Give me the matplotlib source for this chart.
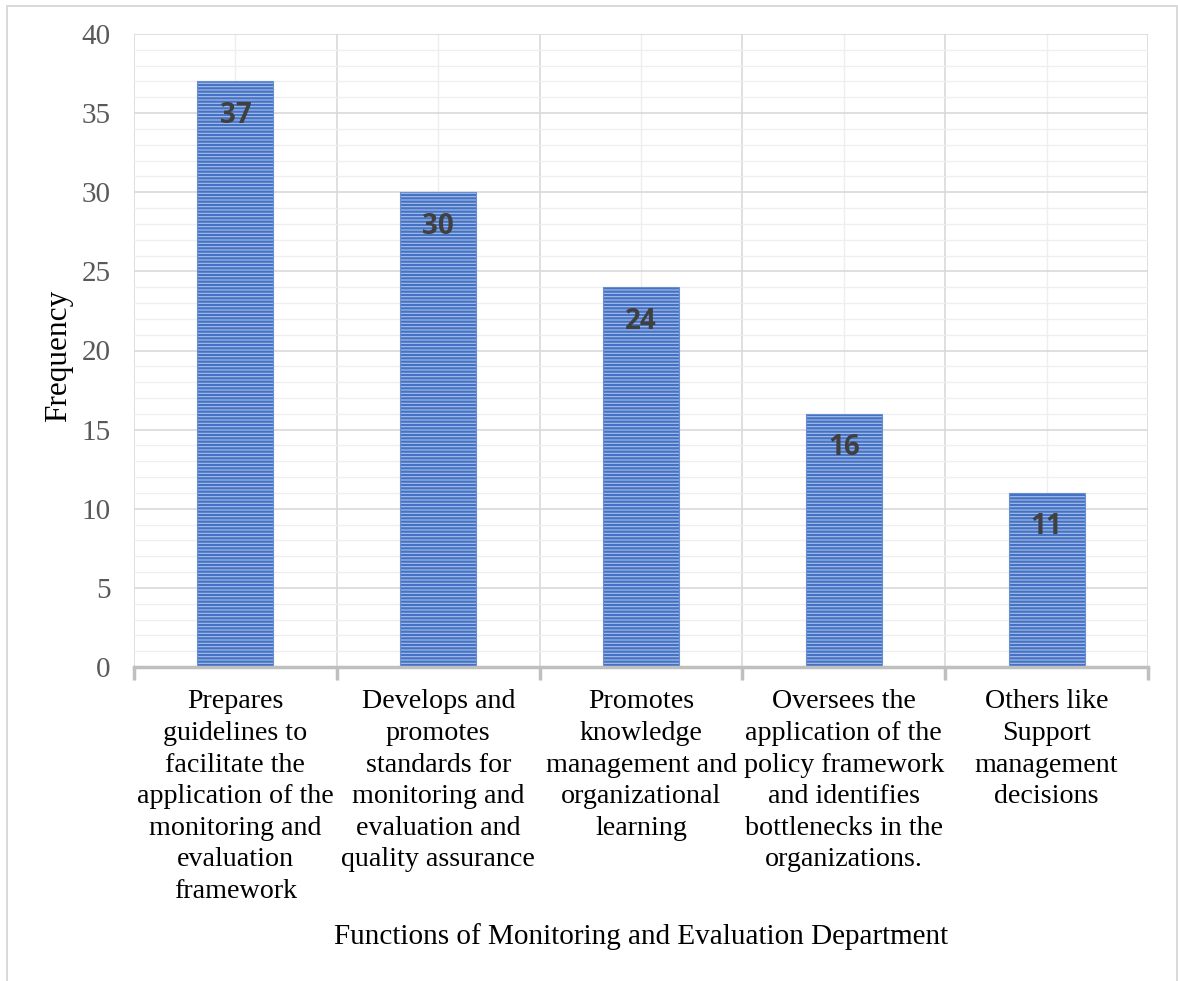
import matplotlib
matplotlib.use("Agg")
import matplotlib.pyplot as plt
import numpy as np
from matplotlib.patches import Rectangle

categories = [
    "Prepares\nguidelines to\nfacilitate the\napplication of the\nmonitoring and\nevaluation\nframework",
    "Develops and\npromotes\nstandards for\nmonitoring and\nevaluation and\nquality assurance",
    "Promotes\nknowledge\nmanagement and\norganizational\nlearning",
    "Oversees the\napplication of the\npolicy framework\nand identifies\nbottlenecks in the\norganizations.",
    "Others like\nSupport\nmanagement\ndecisions",
]
values = [37, 30, 24, 16, 11]
yticks = [0, 5, 10, 15, 20, 25, 30, 35, 40]

plt.rcParams['hatch.linewidth'] = 1.6
serif = ['Liberation Serif', 'DejaVu Serif']

fig = plt.figure(figsize=(11.78, 9.81), dpi=100)
fig.patches.append(Rectangle((7/1178, -0.01), 1170/1178, 1.01 - 6/981, transform=fig.transFigure,
                             fill=False, edgecolor='#d9d9d9', linewidth=1.4))
ax = fig.add_axes([134/1178, 1-667/981, (1148-134)/1178, (667-34)/981])

x = np.arange(len(values))
ax.bar(x, values, width=0.375, color='#a8bfe8', edgecolor='#4472c4', hatch='-----',
       linewidth=0, zorder=3)
ax.bar(x, values, width=0.375, color='none', edgecolor='#6a8fd0', linewidth=0.8, zorder=4)

for xi, v in zip(x, values):
    ax.text(xi, v - 2.15, str(v), ha='center', va='center', fontsize=20, fontweight='bold',
            color='#404040', family=['Open Sans', 'DejaVu Sans'], zorder=5)

ax.set_xlim(-0.5, len(values) - 0.5)
ax.set_ylim(0, 40)
ax.set_yticks(yticks)
ax.set_yticklabels([str(t) for t in yticks], fontsize=21, color='#595959', family=serif)
ax.set_yticks(np.arange(0, 41, 1), minor=True)
ax.tick_params(axis='y', which='both', length=0, pad=17)

ax.set_xticks(x)
ax.set_xticklabels(categories, fontsize=20.2, color='black', family=serif, linespacing=1.35)
ax.set_xticks(np.arange(-0.5, len(values), 1), minor=True)
ax.tick_params(axis='x', which='major', length=0, pad=16)
ax.tick_params(axis='x', which='minor', length=9, width=2.5, color='#bfbfbf')

ax.grid(axis='y', which='major', color='#d9d9d9', linewidth=1.2, zorder=0)
ax.grid(axis='y', which='minor', color='#eeeeee', linewidth=0.9, zorder=0)
ax.grid(axis='x', which='minor', color='#d9d9d9', linewidth=1.2, zorder=0)
ax.grid(axis='x', which='major', color='#eeeeee', linewidth=1.0, zorder=0)

for s in ['top', 'right', 'left']:
    ax.spines[s].set_visible(False)
ax.spines['bottom'].set_color('#bfbfbf')
ax.spines['bottom'].set_linewidth(2.5)
ax.spines['bottom'].set_zorder(6)

fig.text(59/1178, 1-356/981, "Frequency", rotation=90, ha='center', va='center',
         fontsize=22.5, family=serif, color='black')
fig.text(641/1178, 1-937/981, "Functions of Monitoring and Evaluation Department",
         ha='center', va='center', fontsize=21, family=serif, color='black')

fig.savefig("out.png", dpi=100)
